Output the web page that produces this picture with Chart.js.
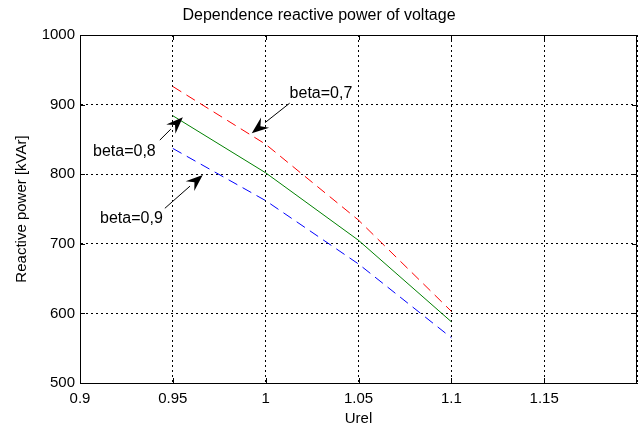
<!DOCTYPE html>
<html><head><meta charset="utf-8">
<script src="https://cdn.jsdelivr.net/npm/chart.js@4/dist/chart.umd.min.js"></script>
<style>html,body{margin:0;padding:0;background:#fff}#wrap{width:644px;height:429px}</style>
</head><body><div id="wrap"><canvas id="c" width="644" height="429"></canvas></div>
<script>
const urel = [0.95, 1.0, 1.05, 1.1];
const beta07 = [926, 843, 734, 603];
const beta08 = [884, 802, 705, 588];
const beta09 = [837, 762, 671, 565];
const xTicks = [0.9, 0.95, 1, 1.05, 1.1, 1.15];
const yTicks = [500, 600, 700, 800, 900, 1000];
const labels = [
  {text:'beta=0,7', tx:1.0129, ty:916, ax:1.0129, ay:902, hx:0.9925, hy:859},
  {text:'beta=0,8', tx:0.907, ty:833, ax:0.943, ay:849, hx:0.9554, hy:882},
  {text:'beta=0,9', tx:0.9108, ty:736, ax:0.9457, ay:751, hx:0.9661, hy:799}
];
const FONT = '"Liberation Sans", Arial, sans-serif';
const pts = a => urel.map((x,i)=>({x, y:a[i]}));

const boxPlugin = {
  id:'box',
  afterDraw(chart){
    const {ctx, chartArea:a, scales:{x,y}} = chart;
    ctx.save();
    ctx.strokeStyle='#000'; ctx.lineWidth=1;
    ctx.strokeRect(a.left+0.5, a.top+0.5, a.right-a.left-1, a.bottom-a.top);
    ctx.beginPath();
    xTicks.forEach(v=>{const px=Math.round(x.getPixelForValue(v))+0.5; ctx.moveTo(px,a.bottom); ctx.lineTo(px,a.bottom-5); ctx.moveTo(px,a.top); ctx.lineTo(px,a.top+5);});
    yTicks.forEach(v=>{const py=Math.round(y.getPixelForValue(v))+0.5; ctx.moveTo(a.left,py); ctx.lineTo(a.left+5,py); ctx.moveTo(a.right,py); ctx.lineTo(a.right-5,py);});
    ctx.stroke();
    ctx.font = '16px ' + FONT;
    ctx.fillStyle='#000'; ctx.textBaseline='middle'; ctx.textAlign='left';
    labels.forEach(l=>{
      ctx.fillText(l.text, x.getPixelForValue(l.tx), y.getPixelForValue(l.ty));
      const x0=x.getPixelForValue(l.ax), y0=y.getPixelForValue(l.ay);
      const x1=x.getPixelForValue(l.hx), y1=y.getPixelForValue(l.hy);
      const ang=Math.atan2(y1-y0,x1-x0);
      const L=17, W=6.5;
      const bx=x1-L*Math.cos(ang), by=y1-L*Math.sin(ang);
      ctx.beginPath(); ctx.lineWidth=1; ctx.moveTo(x0,y0); ctx.lineTo(bx,by); ctx.stroke();
      ctx.beginPath();
      ctx.moveTo(x1,y1);
      ctx.lineTo(bx - W*Math.sin(ang), by + W*Math.cos(ang));
      ctx.lineTo(x1-0.65*L*Math.cos(ang), y1-0.65*L*Math.sin(ang));
      ctx.lineTo(bx + W*Math.sin(ang), by - W*Math.cos(ang));
      ctx.closePath(); ctx.fill();
    });
    ctx.restore();
  }
};

new Chart(document.getElementById('c'), {
  type:'line',
  data:{datasets:[
    {label:'beta=0,7', data:pts(beta07), borderColor:'#ff0000', borderWidth:1, borderDash:[10,6], pointRadius:0, tension:0},
    {label:'beta=0,8', data:pts(beta08), borderColor:'#008000', borderWidth:1, pointRadius:0, tension:0},
    {label:'beta=0,9', data:pts(beta09), borderColor:'#0000ff', borderWidth:1, borderDash:[10,6], pointRadius:0, tension:0}
  ]},
  options:{
    responsive:false, animation:false, devicePixelRatio:1,
    layout:{padding:{left:0,right:6,top:0,bottom:0}},
    plugins:{
      legend:{display:false}, tooltip:{enabled:false},
      title:{display:true, text:'Dependence reactive power of voltage', color:'#000',
        font:{family:FONT, size:16, weight:'normal'}, padding:{top:6,bottom:9.8}}
    },
    scales:{
      x:{type:'linear', min:0.9, max:1.2,
        afterBuildTicks(s){ s.ticks = xTicks.concat([1.2]).map(v=>({value:v})); },
        afterFit(s){ s.height = 46; },
        ticks:{color:'#000', font:{family:FONT,size:15}, padding:7, maxRotation:0,
          callback:(v)=> Math.abs(v-1.2)<1e-9 ? '' : String(+(+v).toFixed(2))},
        grid:{color:'#000', lineWidth:1, drawTicks:false},
        border:{display:true, color:'#000', dash:[2,3]},
        title:{display:true, text:'Urel', color:'#000', font:{family:FONT,size:15}, padding:{top:0,bottom:1}}
      },
      y:{type:'linear', min:500, max:1000,
        afterBuildTicks(s){ s.ticks = yTicks.map(v=>({value:v})); },
        afterFit(s){ s.width = 80; },
        ticks:{color:'#000', font:{family:FONT,size:15}, padding:5, callback:(v)=>String(v)},
        grid:{color:'#000', lineWidth:1, drawTicks:false},
        border:{display:true, color:'#000', dash:[2,3]},
        title:{display:true, text:'Reactive power [kVAr]', color:'#000', font:{family:FONT,size:15}, padding:{top:13,bottom:0}}
      }
    }
  },
  plugins:[boxPlugin]
});
</script></body></html>
